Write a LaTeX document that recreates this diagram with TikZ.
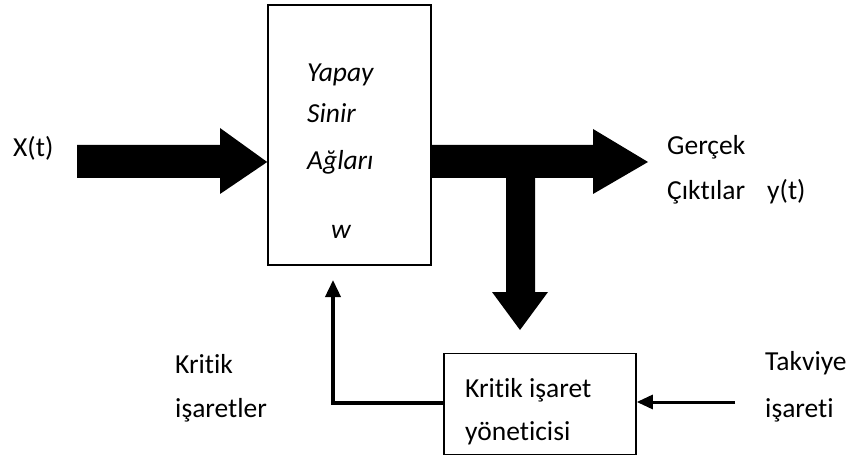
\documentclass[tikz,border=0pt]{standalone}
\usepackage{fontspec}
\setmainfont[Ligatures={NoCommon}]{Carlito}
\usetikzlibrary{arrows.meta}
\begin{document}
\begin{tikzpicture}[x=1pt,y=-1pt,
  lbl/.style={anchor=base west,inner sep=0pt,font=\fontsize{27.5}{32}\selectfont},
  ilbl/.style={lbl,font=\fontsize{27.5}{32}\selectfont\itshape},
  blockbox/.style={draw,line width=1.6pt,inner sep=0pt},
  bigarrow/.style={fill=black},
  fbline/.style={line width=3.6pt,-{Triangle[length=17pt,width=15pt]}},
  inline/.style={line width=3pt,-{Triangle[length=16pt,width=14pt]}}]
\useasboundingbox (0,0) rectangle (851,457);
% blocks
\node[blockbox,minimum width=163pt,minimum height=260pt] (nn) at (349.5,135) {};
\node[blockbox,minimum width=192pt,minimum height=101pt] (k) at (540,404) {};
% texts in main block
\node[ilbl] (t1) at (307,82) {Yapay};
\node[ilbl] (t2) at (307,123) {Sinir};
\node[ilbl] (t3) at (307,170) {Ağları};
\node[ilbl] (tw) at (331,238) {w};
% texts in critic block
\node[lbl] (k1) at (465,397) {Kritik işaret};
\node[lbl] (k2) at (465,440) {yöneticisi};
% outside labels
\node[lbl] (x) at (13,157) {X(t)};
\node[lbl] (g1) at (667,155) {Gerçek};
\node[lbl] (g2) at (667,200) {Çıktılar};
\node[lbl] (y) at (767,200) {y(t)};
\node[lbl] (c1) at (175,373) {Kritik};
\node[lbl] (c2) at (175,417) {işaretler};
\node[lbl] (r1) at (765,370) {Takviye};
\node[lbl] (r2) at (765,417) {işareti};
% big arrows
\fill[bigarrow] (77,145) -- (220,145) -- (220,128) -- (nn.west |- 0,162) -- (220,194) -- (220,178) -- (77,178) -- cycle;
\fill[bigarrow] (nn.east |- 0,145) -- (593,145) -- (593,129) -- (648,162) -- (593,194) -- (593,178) -- (nn.east |- 0,178) -- cycle;
\fill[bigarrow] (506,170) -- (506,292) -- (492,292) -- (520,330) -- (548,292) -- (535,292) -- (535,170) -- cycle;
% thin connectors
\coordinate (fbtip) at (333,280);
\coordinate (rin) at (735,402);
\draw[fbline] (k.west |- 0,403) -| (fbtip);
\draw[inline] (rin) -- (k.east |- rin);
\end{tikzpicture}
\end{document}
